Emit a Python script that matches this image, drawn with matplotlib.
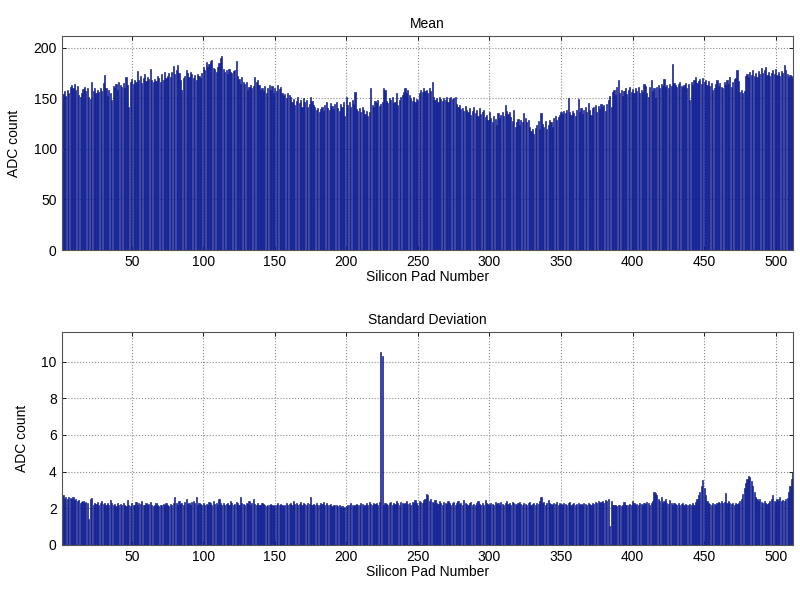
import numpy as np
import matplotlib
matplotlib.use("Agg")
import matplotlib.pyplot as plt

plt.rcParams['font.family'] = ['Liberation Sans', 'DejaVu Sans']

pad_numbers = list(range(1, 513))

mean_adc = [
    156,154,157,152,158,155,161,163,160,164,158,162,153,151,155,159,
    161,157,160,151,149,166,157,160,155,158,156,160,157,165,173,160,
    152,158,155,148,162,160,164,158,166,163,161,165,160,171,163,141,
    166,169,164,168,166,177,168,172,165,170,174,167,171,169,179,168,
    166,169,167,172,170,166,174,168,176,170,172,175,171,176,182,174,
    178,183,175,168,158,170,172,178,175,171,176,174,170,173,168,174,
    172,170,175,181,178,186,181,184,187,188,180,179,176,181,185,190,
    192,179,176,178,174,179,176,175,177,178,187,172,169,164,171,166,
    164,166,158,161,163,160,162,171,166,168,163,158,160,157,162,155,
    160,163,158,162,155,160,157,163,159,161,155,152,154,150,155,153,
    151,146,149,143,147,151,145,148,141,150,146,148,141,144,151,147,
    143,141,138,140,136,139,141,137,143,146,140,138,145,142,139,144,
    146,140,137,144,141,146,132,151,143,146,141,148,144,156,139,137,
    140,136,141,138,134,137,132,136,160,143,141,147,145,148,142,144,
    146,160,158,147,145,150,148,151,145,146,155,143,148,151,153,156,
    160,155,158,153,150,147,151,146,149,148,155,158,156,160,157,158,
    155,160,157,166,151,148,150,146,151,149,147,150,148,151,146,150,
    151,149,150,151,144,141,143,139,140,137,142,138,136,140,133,137,
    141,135,138,132,140,134,136,138,131,133,128,136,130,126,132,129,
    124,135,130,133,136,132,143,137,134,136,131,127,138,122,126,129,
    124,128,126,135,130,126,128,122,118,120,115,121,124,127,120,135,
    125,122,127,120,124,128,126,122,130,132,128,131,133,136,134,137,
    135,138,150,136,133,137,135,132,138,149,136,140,134,138,141,136,
    145,138,133,140,141,143,136,142,139,144,141,143,137,144,148,152,
    141,156,158,153,161,168,155,158,152,157,160,154,158,161,156,159,
    155,160,157,161,155,158,156,164,162,155,151,161,168,157,160,150,
    161,163,160,164,162,169,161,163,160,164,162,184,165,163,161,164,
    166,162,161,163,165,160,164,148,166,163,168,171,165,167,169,164,
    170,166,168,163,167,162,165,158,160,164,168,162,165,161,160,166,
    163,168,164,171,161,166,169,170,178,167,156,158,155,157,172,174,
    171,176,173,178,172,175,171,177,174,180,175,178,181,173,176,172,
    175,178,174,179,173,176,172,177,175,183,178,174,171,173,172,170,
]

std_adc = [
    2.6,2.7,2.5,2.6,2.5,2.6,2.55,2.5,2.6,2.45,2.5,2.4,2.45,2.3,2.35,2.4,
    2.3,2.35,2.3,1.4,2.5,2.55,2.2,2.3,2.25,2.35,2.2,2.3,2.4,2.25,2.3,2.2,
    2.3,2.2,2.45,2.3,2.2,2.25,2.1,2.3,2.2,2.25,2.15,2.3,2.2,2.1,2.45,2.2,
    2.1,2.3,2.2,2.15,2.35,2.2,2.3,2.25,2.4,2.2,2.15,2.3,2.2,2.25,2.35,2.2,
    2.1,2.2,2.3,2.15,2.1,2.2,2.15,2.25,2.2,2.3,2.2,2.1,2.25,2.2,2.3,2.6,
    2.3,2.2,2.4,2.25,2.3,2.2,2.35,2.5,2.25,2.3,2.2,2.35,2.4,2.3,2.6,2.2,
    2.3,2.25,2.2,2.3,2.15,2.25,2.2,2.35,2.3,2.2,2.4,2.25,2.3,2.2,2.5,2.3,
    2.2,2.3,2.15,2.25,2.3,2.2,2.4,2.3,2.2,2.25,2.35,2.3,2.2,2.6,2.3,2.25,
    2.2,2.3,2.25,2.4,2.2,2.3,2.5,2.25,2.2,2.3,2.15,2.2,2.3,2.25,2.2,2.1,
    2.2,2.15,2.25,2.2,2.1,2.2,2.15,2.3,2.2,2.25,2.2,2.1,2.15,2.3,2.2,2.25,
    2.3,2.2,2.4,2.25,2.3,2.2,2.25,2.35,2.2,2.3,2.25,2.2,2.3,2.25,2.6,2.2,
    2.25,2.2,2.3,2.15,2.2,2.3,2.25,2.35,2.2,2.3,2.15,2.2,2.25,2.1,2.2,2.15,
    2.2,2.1,2.15,2.05,2.1,2.0,2.05,2.1,2.2,2.15,2.3,2.2,2.1,2.2,2.25,2.15,
    2.2,2.3,2.25,2.1,2.2,2.3,2.2,2.35,2.25,2.2,2.3,2.25,2.3,2.2,2.35,10.55,
    10.3,2.2,2.3,2.25,2.2,2.3,2.35,2.2,2.3,2.25,2.4,2.3,2.2,2.35,2.3,2.25,
    2.3,2.4,2.25,2.3,2.2,2.35,2.3,2.45,2.3,2.2,2.4,2.35,2.3,2.45,2.5,2.8,
    2.7,2.4,2.5,2.35,2.3,2.45,2.3,2.25,2.4,2.3,2.2,2.35,2.3,2.25,2.4,2.3,
    2.2,2.3,2.35,2.2,2.3,2.4,2.25,2.3,2.2,2.45,2.3,2.25,2.2,2.3,2.35,2.2,
    2.25,2.2,2.3,2.4,2.25,2.2,2.3,2.2,2.45,2.3,2.25,2.2,2.3,2.25,2.2,2.35,
    2.25,2.3,2.2,2.35,2.25,2.2,2.3,2.4,2.25,2.3,2.2,2.35,2.3,2.25,2.2,2.3,
    2.35,2.25,2.2,2.3,2.25,2.2,2.3,2.35,2.2,2.25,2.3,2.2,2.3,2.25,2.4,2.6,
    2.3,2.35,2.2,2.3,2.45,2.3,2.25,2.2,2.3,2.25,2.35,2.2,2.3,2.25,2.2,2.3,
    2.25,2.2,2.3,2.35,2.2,2.25,2.3,2.2,2.25,2.3,2.2,2.25,2.2,2.3,2.25,2.2,
    2.3,2.25,2.2,2.3,2.25,2.35,2.3,2.4,2.3,2.35,2.4,2.3,2.45,2.4,2.5,1.0,
    2.4,2.2,2.15,2.2,2.1,2.2,2.15,2.1,2.2,2.35,2.2,2.15,2.2,2.25,2.2,2.4,
    2.3,2.2,2.25,2.2,2.3,2.25,2.2,2.3,2.25,2.35,2.3,2.2,2.3,2.4,2.9,2.85,
    2.7,2.5,2.4,2.6,2.3,2.4,2.5,2.3,2.25,2.45,2.3,2.2,2.3,2.25,2.2,2.3,
    2.2,2.25,2.3,2.2,2.25,2.2,2.15,2.25,2.2,2.3,2.2,2.35,2.5,2.7,2.9,3.2,
    3.55,3.1,2.7,2.4,2.3,2.25,2.2,2.3,2.25,2.2,2.3,2.35,2.3,2.4,2.3,2.35,
    2.85,2.3,2.4,2.3,2.25,2.3,2.2,2.3,2.25,2.3,2.4,2.5,2.8,3.1,3.4,3.6,
    3.75,3.7,3.5,3.2,2.9,2.6,2.5,2.4,2.5,2.35,2.3,2.4,2.3,2.25,2.3,2.4,
    2.5,2.7,2.4,2.35,2.5,2.4,2.6,2.4,2.45,2.4,2.5,2.55,2.9,3.2,3.6,3.9,
]

x_ticks = [50, 100, 150, 200, 250, 300, 350, 400, 450, 500]
mean_yticks = [0, 50, 100, 150, 200]
std_yticks = [0, 2, 4, 6, 8, 10]

bar_face = '#1a2ba8'
bar_edge = '#101c86'

fig = plt.figure(figsize=(8.0, 6.04), dpi=100)
ax1 = fig.add_axes([0.077, 0.586, 0.914, 0.354])
ax2 = fig.add_axes([0.077, 0.098, 0.914, 0.352])

panels = [
    (ax1, mean_adc, 'Mean', mean_yticks),
    (ax2, std_adc, 'Standard Deviation', std_yticks),
]

for ax, vals, title, yt in panels:
    ax.bar(pad_numbers, vals, width=0.8, color=bar_face, edgecolor=bar_edge,
           linewidth=0.45, zorder=2)
    ax.set_xlim(1, 512)
    ax.set_ylim(0, 1.1 * max(vals))
    ax.set_xticks(x_ticks)
    ax.set_yticks(yt)
    ax.grid(True, linestyle=':', color='#8a8a8a', linewidth=0.8, zorder=0)
    ax.set_axisbelow(True)
    ax.tick_params(direction='in', length=3, top=True, right=True, labelsize=10,
                   colors='black', width=0.6)
    for s in ax.spines.values():
        s.set_color('#555555')
        s.set_linewidth(0.8)
    ax.set_title(title, fontsize=10, pad=6)
    ax.set_xlabel('Silicon Pad Number', fontsize=10, labelpad=1)
    ax.set_ylabel('ADC count', fontsize=10, labelpad=9)

fig.savefig('out.png', dpi=100, facecolor='white')
